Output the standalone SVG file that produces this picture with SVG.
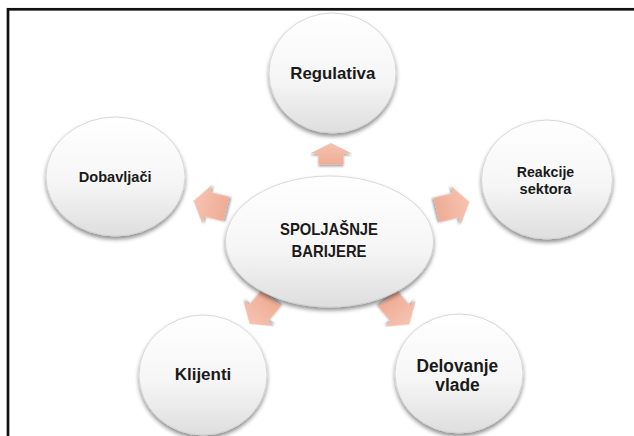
<svg xmlns="http://www.w3.org/2000/svg" width="634" height="436" viewBox="0 0 634 436">
<defs>
<linearGradient id="gCirc" x1="0" y1="0" x2="0" y2="1">
<stop offset="0" stop-color="#ffffff"/>
<stop offset="0.55" stop-color="#f6f6f6"/>
<stop offset="1" stop-color="#dedede"/>
</linearGradient>
<linearGradient id="gArr" x1="0" y1="0" x2="0" y2="1">
<stop offset="0" stop-color="#f6c3b1"/>
<stop offset="1" stop-color="#efac95"/>
</linearGradient>
<filter id="sh" x="-20%" y="-20%" width="140%" height="140%">
<feGaussianBlur in="SourceAlpha" stdDeviation="2"/>
<feOffset dx="0" dy="2.5" result="b"/>
<feComponentTransfer><feFuncA type="linear" slope="0.45"/></feComponentTransfer>
<feMerge><feMergeNode/><feMergeNode in="SourceGraphic"/></feMerge>
</filter>
<filter id="shA" x="-30%" y="-30%" width="160%" height="160%">
<feGaussianBlur in="SourceAlpha" stdDeviation="1.2"/>
<feOffset dx="0" dy="1.5" result="b"/>
<feComponentTransfer><feFuncA type="linear" slope="0.35"/></feComponentTransfer>
<feMerge><feMergeNode/><feMergeNode in="SourceGraphic"/></feMerge>
</filter>
<polygon id="arrL" points="0,-17 20,-3 12.5,-3 12.5,17 -12.5,17 -12.5,-3 -20,-3"/>
</defs>
<style>
.node ellipse{fill:url(#gCirc);stroke:#cfcfcf;stroke-width:0.8;filter:url(#sh)}
.arr{fill:url(#gArr);filter:url(#shA)}
text{font-family:"Liberation Sans",Arial,sans-serif;font-weight:bold;fill:#1a1a1a;text-anchor:middle}
</style>
<rect x="0" y="0" width="634" height="436" fill="#ffffff"/>
<rect x="8" y="9.3" width="660" height="460" fill="none" stroke="#111" stroke-width="2.7"/>

<g id="connectors">
<polygon class="arr" points="331,143 352,153.5 343.5,153.5 343.5,164.5 318.5,164.5 318.5,153.5 310,153.5"/>
<use class="arr" href="#arrL" transform="translate(453,206) rotate(76)"/>
<use class="arr" href="#arrL" transform="translate(398.5,311.5) rotate(140)"/>
<use class="arr" href="#arrL" transform="translate(260.5,311) rotate(220)"/>
<use class="arr" href="#arrL" transform="translate(210,205) rotate(284)"/>
</g>

<g id="center" class="node">
<ellipse cx="329.5" cy="241.5" rx="104" ry="65.5"/>
<text x="329" y="235" font-size="16.5" textLength="98" lengthAdjust="spacingAndGlyphs">SPOLJAŠNJE</text>
<text x="329" y="256.5" font-size="16.5" textLength="75" lengthAdjust="spacingAndGlyphs">BARIJERE</text>
</g>
<g id="regulativa" class="node">
<ellipse cx="332.5" cy="73" rx="63.5" ry="60"/>
<text x="332.8" y="78.5" font-size="16.5" textLength="85" lengthAdjust="spacingAndGlyphs">Regulativa</text>
</g>
<g id="dobavljaci" class="node">
<ellipse cx="115.5" cy="176.5" rx="69.5" ry="59.5"/>
<text x="115.2" y="181.5" font-size="15.5" textLength="72.8" lengthAdjust="spacingAndGlyphs">Dobavljači</text>
</g>
<g id="reakcije" class="node">
<ellipse cx="547" cy="179.5" rx="65.5" ry="59.5"/>
<text x="545.5" y="176.5" font-size="14.5" textLength="57.4" lengthAdjust="spacingAndGlyphs">Reakcije</text>
<text x="545.5" y="193.5" font-size="14.5" textLength="51.8" lengthAdjust="spacingAndGlyphs">sektora</text>
</g>
<g id="klijenti" class="node">
<ellipse cx="203" cy="375" rx="64" ry="60"/>
<text x="203" y="380" font-size="17" textLength="56.6" lengthAdjust="spacingAndGlyphs">Klijenti</text>
</g>
<g id="delovanje" class="node">
<ellipse cx="459" cy="373.5" rx="64" ry="59.5"/>
<text x="457.3" y="371.5" font-size="17.5" textLength="81.7" lengthAdjust="spacingAndGlyphs">Delovanje</text>
<text x="457.5" y="391" font-size="17.5" textLength="44.5" lengthAdjust="spacingAndGlyphs">vlade</text>
</g>
</svg>
